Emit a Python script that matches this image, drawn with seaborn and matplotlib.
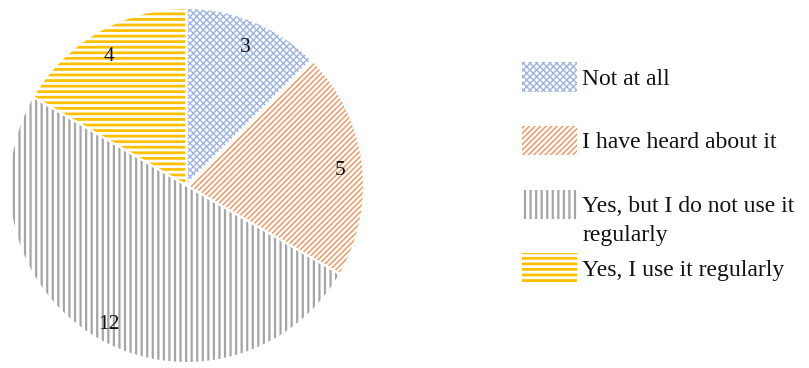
import matplotlib
matplotlib.use("Agg")
import matplotlib.pyplot as plt
import matplotlib.transforms as mtransforms
import seaborn as sns
from matplotlib.patches import Patch

categories = ["Not at all", "I have heard about it",
              "Yes, but I do not use it", "Yes, I use it regularly"]
label_continuation = "regularly"
values = [3, 5, 12, 4]
colors = ["#9DB3E2", "#EE9A66", "#A5A5A5", "#FFC000"]
hatches = ["xxxxx", "//////", "|||", "---"]
hatch_widths = [1.0, 1.1, 1.6, 2.0]

sns.set_theme(style="white")
plt.rcParams["font.family"] = ["Liberation Serif", "DejaVu Serif"]
plt.rcParams["hatch.linewidth"] = 1.3

fig = plt.figure(figsize=(8.09, 3.68), dpi=100)
W, H = 809, 368
cx, cy, r = 186.5, 185.5, 177.5
ax = fig.add_axes([(cx - r) / W, (H - cy - r) / H, 2 * r / W, 2 * r / H])


def style_patch(p, c, h, hw):
    p.set_edgecolor(c)
    p.set_hatch(h)
    if hasattr(p, "set_hatch_linewidth"):
        p.set_hatch_linewidth(hw)


wedges, texts, autotexts = ax.pie(
    values, startangle=90, counterclock=False,
    autopct=lambda p: f"{p * sum(values) / 100:.0f}", pctdistance=0.87,
    wedgeprops=dict(linewidth=0, facecolor="white"),
    textprops=dict(fontsize=15.5, color="#111111"))
for w, c, h, hw in zip(wedges, colors, hatches, hatch_widths):
    style_patch(w, c, h, hw)
# thin white separators between slices
ax.pie(values, startangle=90, counterclock=False,
       wedgeprops=dict(linewidth=1.5, facecolor="none", edgecolor="white"))
shift = mtransforms.offset_copy(ax.transData, fig=fig, x=0, y=-5, units="dots")
for t in autotexts:
    t.set_zorder(5)
    t.set_transform(shift)
ax.set_xlim(-1, 1)
ax.set_ylim(-1, 1)
ax.set_aspect("equal")

fs = 17
handles = []
for c, h, hw in zip(colors, hatches, hatch_widths):
    p = Patch(facecolor="white", edgecolor=c, hatch=h, linewidth=0)
    style_patch(p, c, h, hw)
    handles.append(p)
leg = fig.legend(handles, categories, loc="upper left",
                 bbox_to_anchor=(522 / W, 1 - 62 / H), frameon=False,
                 borderpad=0, borderaxespad=0,
                 fontsize=fs, handlelength=2.35, handleheight=1.55,
                 handletextpad=0.2, labelspacing=1.45)
for t in leg.get_texts():
    t.set_color("#111111")
for p, c, h, hw in zip(leg.get_patches(), colors, hatches, hatch_widths):
    style_patch(p, c, h, hw)

fig.canvas.draw()
# second line of the third legend label, placed under its first line
t3 = leg.get_texts()[2]
bb = t3.get_window_extent()
fig.text(bb.x0 / W, (bb.y0 - 8) / H, label_continuation, fontsize=fs,
         color="#111111", ha="left", va="top")

fig.savefig("out.png", dpi=100)
